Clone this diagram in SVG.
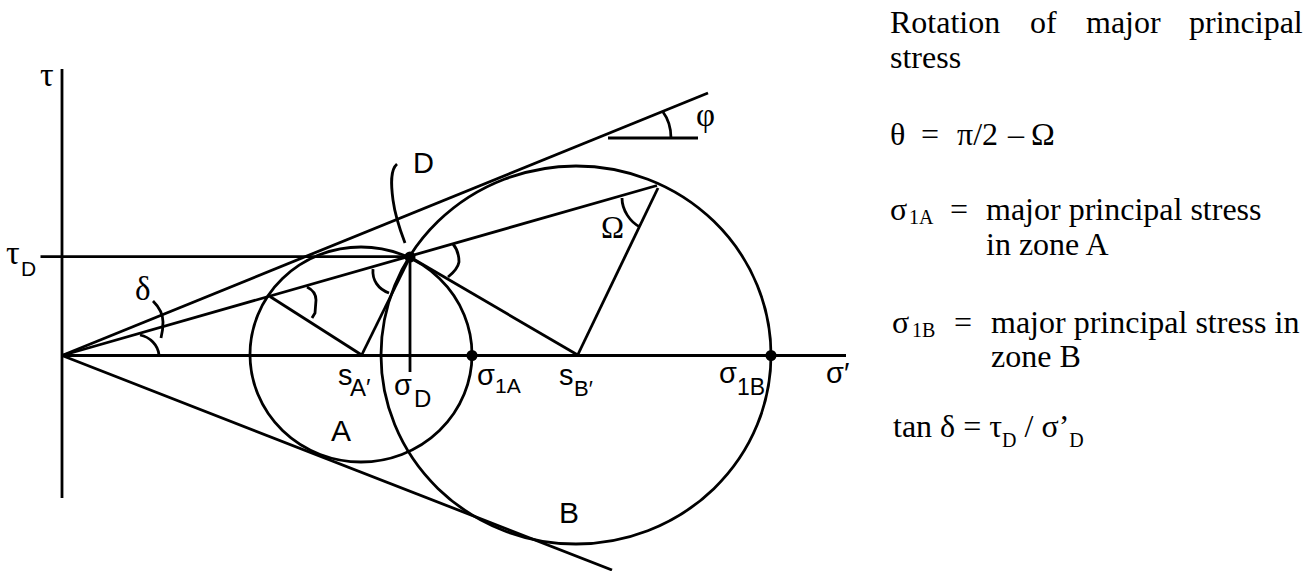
<svg xmlns="http://www.w3.org/2000/svg" width="1316" height="571" viewBox="0 0 1316 571">
<style>
.ln{stroke:#000;stroke-width:2.8;fill:none;stroke-linecap:butt}
.sans{font-family:"Liberation Sans",Arial,sans-serif;fill:#000}
.serif{font-family:"Liberation Serif","Times New Roman",serif;fill:#000}
.dot{fill:#000}
</style>
<rect width="1316" height="571" fill="#fff"/>
<g id="axes">
<line class="ln" x1="62" y1="69" x2="62" y2="498"/>
<line class="ln" x1="62" y1="355.5" x2="846" y2="355.5"/>
<text class="serif" x="40" y="86" font-size="34">τ</text>
<text class="sans" x="826" y="383" font-size="29">σ′</text>
</g>
<g id="circle-A">
<ellipse class="ln" cx="361" cy="354.5" rx="111" ry="107.5"/>
<text class="sans" x="331" y="441" font-size="30">A</text>
</g>
<g id="circle-B">
<ellipse class="ln" cx="576" cy="355" rx="195" ry="189"/>
<text class="sans" x="559" y="523" font-size="30">B</text>
</g>
<g id="connectors">
<line class="ln" x1="62" y1="355.5" x2="708" y2="93"/>
<line class="ln" x1="62" y1="355.5" x2="612" y2="570"/>
<line class="ln" x1="62" y1="355.5" x2="657" y2="185.5"/>
<line class="ln" x1="40.5" y1="256.7" x2="410" y2="256.7"/>
<line class="ln" x1="410" y1="257" x2="410" y2="372"/>
<line class="ln" x1="410" y1="257" x2="361.7" y2="355"/>
<line class="ln" x1="410" y1="257" x2="577.7" y2="355"/>
<line class="ln" x1="270" y1="296.5" x2="361.7" y2="355"/>
<line class="ln" x1="577.7" y1="355" x2="658" y2="188"/>
<line class="ln" x1="608" y1="138" x2="698" y2="138"/>
<path class="ln" d="M663,112 C669,120 671,128 671,138"/>
<path class="ln" d="M140,335 C150,337 158,345 159,355"/>
<path class="ln" d="M153,301 C160,308 163,316 163,322 C163,330 162,334 161,338"/>
<path class="ln" d="M307,287 C313,290 316,294 316,300 L315,313 L312,318"/>
<path class="ln" d="M373,269 C372,280 378,289 389,293"/>
<path class="ln" d="M453,244 C458,250 459,256 459,262 C458,268 453,273 448,277"/>
<path class="ln" d="M622,198 C622,210 630,222 640,227"/>
<path class="ln" d="M397,164 C390,170 391,185 393,200 C395,215 400,230 405,243"/>
</g>
<g id="point-D">
<circle class="dot" cx="410" cy="257" r="5.5"/>
<text class="sans" x="413" y="173" font-size="29">D</text>
</g>
<g id="point-sigma1A"><circle class="dot" cx="472" cy="355.5" r="5.5"/></g>
<g id="point-sigma1B"><circle class="dot" cx="771" cy="355.5" r="5.5"/></g>
<g id="labels">
<text class="serif" x="6" y="264" font-size="34">τ</text>
<text class="sans" x="21" y="276" font-size="21">D</text>
<text class="serif" x="135" y="300" font-size="33">δ</text>
<text class="serif" x="601" y="238" font-size="31">Ω</text>
<text class="serif" x="696" y="126" font-size="33">φ</text>
<text class="sans" x="338" y="385" font-size="29">s</text>
<text class="sans" x="350" y="396" font-size="24">A′</text>
<text class="sans" x="394" y="395" font-size="29">σ</text>
<text class="sans" x="414" y="407" font-size="24">D</text>
<text class="sans" x="477" y="385" font-size="29">σ</text>
<text class="sans" x="495" y="393" font-size="21">1A</text>
<text class="sans" x="559" y="385" font-size="29">s</text>
<text class="sans" x="574" y="395.5" font-size="22">B′</text>
<text class="sans" x="719" y="383" font-size="29">σ</text>
<text class="sans" x="737" y="395" font-size="23">1B</text>
</g>
<g id="notes" class="serif" font-size="32">
<text y="33"><tspan x="890">Rotation</tspan><tspan x="1030">of</tspan><tspan x="1086">major</tspan><tspan x="1189">principal</tspan></text>
<text x="890" y="68">stress</text>
<text y="145"><tspan x="890">θ</tspan><tspan x="921">=</tspan><tspan x="957">π/2</tspan><tspan x="1008">–</tspan><tspan x="1031">Ω</tspan></text>
<text y="220"><tspan x="890">σ</tspan><tspan x="909" y="224" font-size="20">1A</tspan><tspan x="950" y="220">=</tspan><tspan x="986">major principal stress</tspan></text>
<text x="986" y="255">in zone A</text>
<text y="333"><tspan x="892">σ</tspan><tspan x="912" y="337" font-size="20">1B</tspan><tspan x="954" y="333">=</tspan><tspan x="991">major principal stress in</tspan></text>
<text x="991" y="367">zone B</text>
<text y="437"><tspan x="893">tan δ = τ</tspan><tspan font-size="20" y="447">D</tspan><tspan y="437"> / σ’</tspan><tspan font-size="20" y="447">D</tspan></text>
</g>
</svg>
